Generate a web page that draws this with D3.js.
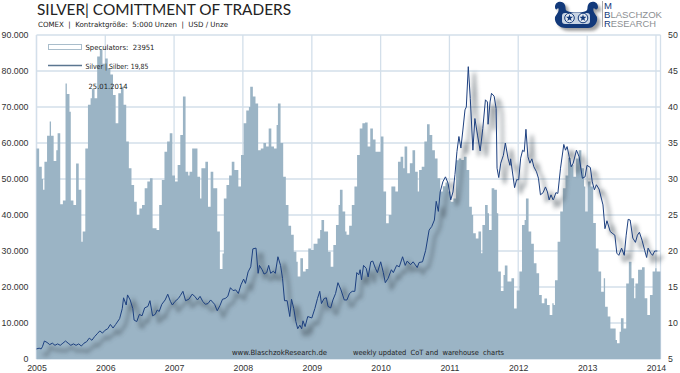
<!DOCTYPE html>
<html>
<head>
<meta charset="utf-8">
<script src="https://cdn.jsdelivr.net/npm/d3@7"></script>
<style>
  html, body { margin: 0; padding: 0; background: #fff; }
  svg { display: block; }
  text { font-family: "Liberation Sans", Arial, sans-serif; }
</style>
</head>
<body>
<div id="canvas"></div>
<script>
// Weeks are counted from the first week of 2005, speculators in 1000 contracts
let specWeeks = [0,2,4,5,6,8,10,11,13,15,16,18,20,22,23,25,26,28,30,32,34,35,37,39,41,42,44,46,48,50,52,54,56,58,60,62,64,66,68,70,72,74,76,78,
    80,82,84,86,88,91,93,95,97,99,101,103,105,107,109,111,113,115,116,118,120,122,124,125,128,130,132,134,137,139,141,142,144,146,148,150,153,155,157,
    159,161,162,164,166,168,170,172,174,176,178,180,182,183,185,187,189,191,193,195,197,198,200,202,204,206,208,210,213,215,216,218,221,223,225,227,229,230,232,234,
    235,237,239,241,243,245,247,249,251,253,255,257,259,261,263,265,267,269,272,274,276,278,279,281,283,285,287,289,290,292,294,296,298,300,302,304,306,308,310,312,
    314,316,318,320,322,324,326,328,330,331,333,335,337,338,340,342,343,345,347,349,350,352,354,355,357,360,362,364,366,368,370,371,373,375,377,379,381,383,385,387,389,391,
    392,393,395,397,399,401,403,405,407,409,411,413,415,416,418,420,422,424,426,428,430,431,433,435,437,439,440,442,443,445,447,449,451,453,454,456,459,461,463,465,467,469,470,473]
let specValues = [58.5,53.4,50,47,54.8,62,66,62,55,58,62.7,43,44,76.5,73.6,68.7,44,42.8,54.3,47,32.6,35.4,58.5,70.6,72.4,75,72.4,84,86,82,83.5,80.8,79,73.3,65.5,73.8,75.6,70.6,60.4,53,48.3,43.7,40,41.8,
    42.8,47.4,49.3,50.2,36.3,35.8,42.8,49.7,57.6,60.4,62.7,51,49.3,53.9,62.2,72.9,52,51,52,58.5,58.5,50.6,44.6,53,54.8,42.3,52,47.4,35.4,25,29.3,44.6,48.3,51,54.8,52.5,47.9,56.7,65.5,
    69,70,75.6,72.9,71,58,58.5,60,59,64,59,58.5,65,71,60,50.6,42.8,37,34.5,29.8,27,22.9,28,24.3,25,30.7,30.3,32,33.5,35.8,38.6,35.4,29.8,25.6,31.7,37.2,42.8,47,41,35.4,
    34.5,37,42.8,47.9,56.7,64,65.5,65.7,59,64,61,57.6,57.6,61.8,46.5,37.7,40,47.9,46.5,54.8,56.2,53,59,51.6,54.4,58,52,46.5,52.5,53.4,60.4,65.2,62.2,58,55.7,50.2,46.5,48,49,46.5,
    43.7,44.6,55.2,55.7,55.3,56.2,52.5,42.3,40,34.9,33.5,35.4,29.4,37.2,42.8,40.5,35.8,47.4,47,40.5,24.3,18.9,23.3,26,21.5,22.4,14,19,24.3,37.2,38.6,44.6,35.4,32,26.6,23.8,17.8,15.5,16.8,15,12.2,15.5,
    15,21.9,32.6,41,47.4,51,55.8,53.9,50.6,55.7,58,53,47.9,41,49.3,47.9,37.8,30.7,24.3,18.7,22.4,14.5,11.8,8.5,8.5,5.3,4.4,7.6,11.3,8.5,21,27,22.4,16.9,21,24.8,25.5,16.9,12.2,17.8,24.3,25.2,24.3,24]

let silverWeeks = [0,2,3.5,4.5,6,8,10,12,14,16,18,20,22,24,26,28,30,32,34,36,38,40,42,44,46,48,50,52,54,56,58,60,63,65,66,68,69,71,73,74,76,78,
    80,82,84.4,86,88,90,91.5,93,95,97.5,99.5,101.5,103,105,107.5,109,111,113,115.5,118,120,122,124,126,128,130,132,135,137,139,141,143,145,147,149,151,153,155,157,
    158.4,160.4,162.4,164,166.4,168,169,171,172.5,174.5,176,177.5,179.5,181,183,185,186.5,188,190,192,193.3,195,196.6,198,199.6,201,202,203.6,205.6,208.7,211,213,214.7,216,218,219.7,221,223,224.7,226.7,228.5,230.8,233.3,
    235.3,237.3,239.3,241.3,242.8,244.3,245.3,246.4,247.9,249.9,251.4,253.4,254.9,256.9,258.4,260.9,262.9,264.4,266.5,269,270.5,273,275,277.5,279.5,281,283.5,285.5,288.6,290,292.6,295,297.6,299.6,301.6,303,304.6,306,308,310,312,314,
    315.7,317.2,318.7,320.2,321.7,323.2,324.8,325.8,327.3,328.8,330.8,332.3,334.3,336.3,338.3,340.3,341.8,342.3,343.8,344.9,346.9,348.4,349.1,350.4,351.9,353.9,355.4,357.4,358.9,359.4,362.4,363.9,365.5,367,368.5,369.7,371,372.5,374,375.5,377,379,380.5,382,384,385.8,387.3,388.6,390,391.6,
    392.2,393.7,395.2,397.2,399.7,401,402.2,403.8,405.3,406.8,409.3,411.3,413.8,415.8,417.3,419.8,421.3,422.9,424.4,426.4,427.9,429.4,430.9,432.4,434.9,436.9,438.4,439.9,441.4,443.5,445.5,447,448.5,450,452,454,455.5,457,459,461,462.5,463.6,465.6,467,468.6,470.6]
let silverValues = [6.4,6.5,6.4,6.7,7.5,7.3,7,7.2,6.9,7.1,6.9,7.2,7.5,7.2,6.9,7.1,6.9,7.1,6.8,7.2,7.4,7.9,7.6,8.1,8.5,8.9,8.6,9,9.2,9.8,9.3,9.8,10.6,12,13.5,12.5,13.9,13.2,12,10.4,10.2,11.2,
    11,12.1,12.3,13.1,11,11.2,11.8,11.6,12.6,13.2,14,13,12.5,13,13.4,13.8,14.4,13.1,13.3,14,13.7,13.2,13.7,13,12.6,12.7,13.2,12.6,11.7,12.4,13.3,13.4,13.7,14.9,14.5,14.6,14.1,15.3,16.1,
    15.5,17.1,17.8,20.3,20.4,16.9,18,17.4,16.8,17,18,16.9,17.2,16.9,19.2,18,16.2,13.1,13.1,10.9,13.3,12,10.2,9.2,9.7,9.2,10.3,9.5,10.9,10.7,12,13.4,14.4,12.7,13.4,13.5,12.3,12.1,13.2,14.1,15.6,14.6,13.2,
    13.2,14.1,14.4,14.4,17,16.7,17.4,16,18,17.6,16.4,18.5,18.6,17.6,17,18.5,17,15.6,16.2,17.4,17,18,17.8,19.2,18,18.6,18.1,18.5,17.7,18.4,18.5,20.1,22.9,23.4,24.3,26.9,25.5,28.2,29.6,30.3,29.4,27.1,
    28.2,30.6,33.8,35.9,34.3,36.8,39.6,40,45.6,41.2,34,38.4,36.1,33.9,37,41,40.7,37.6,40.7,41.9,41.5,39.8,31.5,30.2,32.2,33.3,35,32.9,31.9,32.8,28.8,29.9,29.9,32.9,34,33.8,36.9,33.1,32.2,32.8,31.7,31,30.1,27.8,28.1,28.9,28.2,27.1,27.8,27.1,
    27.3,28.1,28,31.5,34.8,34,34.5,33.1,31.7,32.2,34,33.1,30.1,30.3,31.9,31.6,29.6,28.5,29.2,28.6,27.5,26.4,23.1,24.2,22.7,22.4,22.2,19.7,19.4,20.4,19.4,22.2,24.4,24.3,21.8,21.2,22.2,22.6,21.5,20.1,19.1,20.4,19.7,19.4,20,20]

let yearTicks = [2005,2006,2007,2008,2009,2010,2011,2012,2013,2014]
let specTicks = [0,10000,20000,30000,40000,50000,60000,70000,80000,90000]
let silverTicks = [5,10,15,20,25,30,35,40,45,50]

let width = 680
let height = 373
let left = 36.5
let right = 660.5
let top_y = 35
let bottom = 359
let color_bar = '#9bb4c5'
let color_grid = '#d3dfea'
let color_line = '#1d4080'
let color_logo = '#12397a'

let weekDate = function (w) {
    return new Date(Date.UTC(2005, 0, 1) + w * 7 * 864e5)
}

let x = d3.scaleUtc().domain([weekDate(0), weekDate(473)]).range([left, right])
let yL = d3.scaleLinear().domain([0, 90000]).range([bottom, top_y])
let yR = d3.scaleLinear().domain([5, 50]).range([bottom, top_y])

let svg = d3.select('#canvas').append('svg').attr('width', width).attr('height', height)

let defs = svg.append('defs')
defs.append('filter').attr('id', 'blur-line')
    .attr('x', '-5%').attr('y', '-10%').attr('width', '110%').attr('height', '120%')
    .append('feGaussianBlur').attr('stdDeviation', 2.2)
defs.append('filter').attr('id', 'blur-logo')
    .append('feGaussianBlur').attr('stdDeviation', 1.5)

// Grid
let grid = svg.append('g')
grid.selectAll('line.h').data(specTicks).enter().append('line')
    .attr('x1', left).attr('x2', right)
    .attr('y1', (d) => yL(d)).attr('y2', (d) => yL(d))
    .attr('stroke', color_grid).attr('stroke-width', 1.3)
grid.selectAll('line.v').data(yearTicks).enter().append('line')
    .attr('x1', (d) => x(new Date(Date.UTC(d, 0, 1)))).attr('x2', (d) => x(new Date(Date.UTC(d, 0, 1))))
    .attr('y1', top_y).attr('y2', bottom)
    .attr('stroke', color_grid).attr('stroke-width', 1.3)
grid.append('line').attr('x1', left).attr('x2', left).attr('y1', top_y).attr('y2', bottom)
    .attr('stroke', color_grid).attr('stroke-width', 1.3)
grid.append('line').attr('x1', right).attr('x2', right).attr('y1', top_y).attr('y2', bottom)
    .attr('stroke', color_grid).attr('stroke-width', 1.3)

// Speculators
let area = d3.area()
    .x((d, i) => x(weekDate(specWeeks[i])))
    .y0(bottom)
    .y1((d) => yL(d * 1000))
    .curve(d3.curveStepAfter)

svg.append('path')
    .attr('d', area(specValues))
    .attr('fill', color_bar)

// Silver price with its soft drop shadow
let line = d3.line()
    .x((d, i) => x(weekDate(silverWeeks[i])))
    .y((d) => yR(d))

svg.append('path')
    .attr('d', line(silverValues))
    .attr('fill', 'none')
    .attr('stroke', '#3a4650')
    .attr('stroke-width', 2.4)
    .attr('opacity', 0.5)
    .attr('transform', 'translate(6,6)')
    .attr('filter', 'url(#blur-line)')

svg.append('path')
    .attr('d', line(silverValues))
    .attr('fill', 'none')
    .attr('stroke', color_line)
    .attr('stroke-width', 1)
    .attr('stroke-linejoin', 'round')

// Axes
let thousands = d3.formatLocale({ decimal: ',', thousands: '.', grouping: [3], currency: ['', ''] }).format(',')

let style_axis = function (g) {
    g.select('.domain').remove()
    g.selectAll('.tick line').remove()
    g.selectAll('text').attr('font-size', 8.8).attr('fill', '#333')
}

svg.append('g')
    .attr('transform', 'translate(28.5,0)')
    .call(d3.axisLeft(yL).tickValues(specTicks).tickFormat(thousands).tickSize(0).tickPadding(0))
    .call(style_axis)

svg.append('g')
    .attr('transform', 'translate(668,0)')
    .call(d3.axisRight(yR).tickValues(silverTicks).tickSize(0).tickPadding(0))
    .call(style_axis)

svg.append('g')
    .attr('transform', 'translate(0,' + (bottom + 6) + ')')
    .call(d3.axisBottom(x)
        .tickValues(yearTicks.map((d) => new Date(Date.UTC(d, 0, 1))))
        .tickFormat(d3.utcFormat('%Y')).tickSize(0).tickPadding(0))
    .call(style_axis)

// Titles
svg.append('text').attr('x', 37).attr('y', 14.5)
    .attr('font-size', 14.5).attr('fill', '#222')
    .style('font-family', 'Lato')
    .attr('textLength', 254).attr('lengthAdjust', 'spacingAndGlyphs')
    .text('SILVER| COMITTMENT OF TRADERS')

let small = function (tx, ty, s, len) {
    svg.append('text').attr('x', tx).attr('y', ty)
        .attr('font-size', 7.2).attr('fill', '#222')
        .style('font-family', '"DejaVu Sans"')
        .style('white-space', 'pre')
        .attr('textLength', len).attr('lengthAdjust', 'spacingAndGlyphs')
        .text(s)
}
small(38, 27, 'COMEX  |  Kontraktgröße:  5:000 Unzen  |  USD / Unze', 190)

// Legend
svg.append('rect').attr('x', 48.5).attr('y', 44.5).attr('width', 33).attr('height', 5)
    .attr('fill', '#fff').attr('stroke', '#a9bdcb')
svg.append('line').attr('x1', 48).attr('x2', 82).attr('y1', 65.5).attr('y2', 65.5)
    .attr('stroke', '#5b7690').attr('stroke-width', 1.5)

small(85.5, 49.5, 'Speculators:  23951', 69)
small(85.5, 68.5, 'Silver | Silber: 19,85', 63)
small(88.5, 89, '25.01.2014', 39)
small(232, 355, 'www.BlaschzokResearch.de', 95)
small(353, 355, 'weekly updated  CoT and  warehouse  charts', 151)

// Logo: viking ship with two scrolled stems and two shields
let hull = 'M555 7 C555 1 563 0 565 5 C566 8 565 10 567 11 C572 13 581 13 586 11 C588 10 587 8 588 5 C590 0 598 1 598 7 C598 10 595 10 594 8 C592 10 595 14 597 17 C598 23 594 28 588 28 L566 28 C559 28 554 23 555 17 C557 14 560 10 558 8 C557 10 555 10 555 7 Z'
let shields = [569.5, 583]
let logo = svg.append('g')
logo.append('path').attr('d', hull).attr('fill', '#555').attr('opacity', 0.55)
    .attr('transform', 'translate(3,3)').attr('filter', 'url(#blur-logo)')
logo.append('path').attr('d', hull).attr('fill', color_logo)
logo.append('rect').attr('x', 562).attr('y', 13).attr('width', 28).attr('height', 11).attr('rx', 3).attr('fill', '#c9d5e4')
logo.selectAll('circle').data(shields).enter().append('circle')
    .attr('cx', (d) => d).attr('cy', 18).attr('r', 4.8)
    .attr('fill', '#e3e9f1').attr('stroke', color_logo).attr('stroke-width', 1)
logo.selectAll('path.hub').data(shields).enter().append('path')
    .attr('class', 'hub')
    .attr('d', d3.symbol().type(d3.symbolStar).size(16))
    .attr('transform', (d) => 'translate(' + d + ',18)')
    .attr('fill', color_logo)
logo.append('line').attr('x1', 602.5).attr('x2', 602.5).attr('y1', 1).attr('y2', 27).attr('stroke', '#aaa')
let logoText = logo.append('g').style('font-family', '"Liberation Sans"').attr('fill', '#8c8f92')
logoText.append('text').attr('x', 604).attr('y', 8.5).attr('font-size', 9.5).attr('fill', color_logo).text('M')
logoText.append('text').attr('x', 604).attr('y', 17.5).attr('font-size', 9.5).attr('textLength', 58).attr('lengthAdjust', 'spacingAndGlyphs')
    .html('<tspan fill="#12397a">B</tspan>LASCHZOK')
logoText.append('text').attr('x', 604).attr('y', 26.5).attr('font-size', 9.5).attr('textLength', 52).attr('lengthAdjust', 'spacingAndGlyphs')
    .html('<tspan fill="#12397a">R</tspan>ESEARCH')
</script>
</body>
</html>
